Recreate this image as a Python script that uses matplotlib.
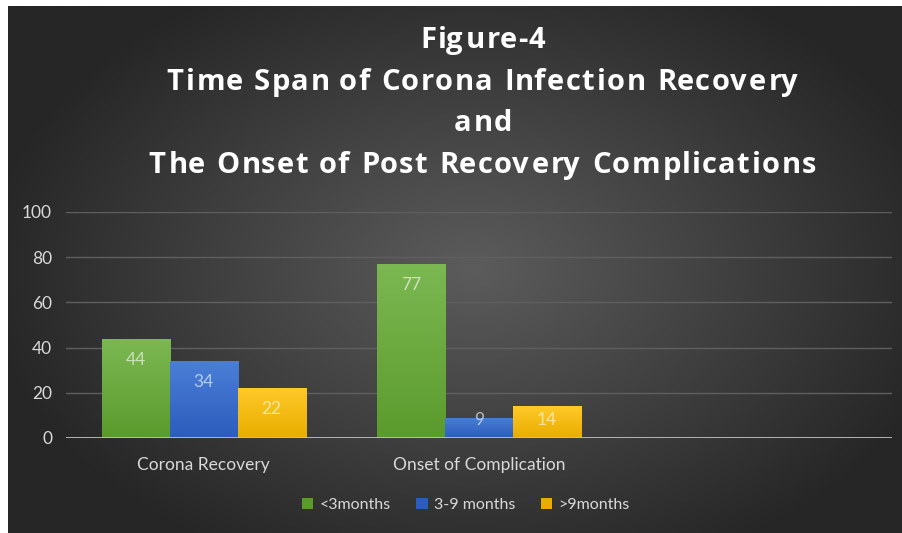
import matplotlib
matplotlib.use("Agg")
import matplotlib.pyplot as plt
import numpy as np
from matplotlib.colors import to_rgb
from matplotlib.patches import Patch
from matplotlib.font_manager import FontProperties, findfont
from matplotlib.ft2font import FT2Font

categories = ["Corona Recovery", "Onset of Complication", ""]
series_names = ["<3months", "3-9 months", ">9months"]
lt3 = [44, 77, None]
m3_9 = [34, 9, None]
gt9 = [22, 14, None]
yticks = [0, 20, 40, 60, 80, 100]
title_lines = ["Figure-4", "Time Span of Corona Infection Recovery", "and",
               "The Onset of Post Recovery Complications"]

# (top colour, bottom colour) for the Excel-ish gradient fill
FILLS = [("#7cb852", "#5b9b2d"), ("#4b7fd6", "#2c5cbd"), ("#ffc928", "#e8ad00")]
FONT = ["Lato", "DejaVu Sans"]
TXT = "#d9d9d9"

W, H = 903, 533
DPI = 100
fig = plt.figure(figsize=(W / DPI, H / DPI), dpi=DPI, facecolor="white")

# radial gradient background
bg = fig.add_axes([8 / W, 0, 1 - 8 / W, 1 - 6 / H], zorder=-10)
yy, xx = np.mgrid[0:1:300j, 0:1:500j]
r = np.sqrt(((xx - 0.52) / 0.55) ** 2 + ((yy - 0.5) / 0.62) ** 2)
shade = (92 - 54 * np.clip(r, 0, 1)) / 255
bg.imshow(np.dstack([shade] * 3), aspect="auto", extent=(0, 1, 0, 1))
bg.set_axis_off()

ax = fig.add_axes([66 / W, 1 - 438 / H, 826 / W, 226 / H])
ax.set_facecolor("none")
x = np.arange(len(categories))
width = 0.247


def gradient_fill(ax, bars, top, bottom):
    t, b = np.array(to_rgb(top)), np.array(to_rgb(bottom))
    grad = np.linspace(0, 1, 64)[:, None, None]
    img = t * (1 - grad) + b * grad
    for bar in bars:
        x0, y0 = bar.get_x(), bar.get_y()
        w, h = bar.get_width(), bar.get_height()
        if h <= 0:
            continue
        im = ax.imshow(img, aspect="auto", extent=(x0, x0 + w, y0, y0 + h),
                       zorder=3, interpolation="bilinear")
        im.set_clip_path(bar)


for i, (name, vals) in enumerate(zip(series_names, [lt3, m3_9, gt9])):
    pos = [xi + (i - 1) * width for xi, v in zip(x, vals) if v is not None]
    hs = [v for v in vals if v is not None]
    bars = ax.bar(pos, hs, width, color=FILLS[i][1], linewidth=0, zorder=2, label=name)
    gradient_fill(ax, bars, *FILLS[i])
    for p, v in zip(pos, hs):
        # inside end, but pushed up for short bars like Excel does
        ax.text(p, max(v - 9.3, 8.1), str(v), ha="center", va="center", color="white",
                alpha=0.62, fontsize=12.5, family=FONT, zorder=5)

ax.set_xlim(-0.5, 2.5)
ax.set_ylim(0, 100)
ax.set_yticks(yticks)
ax.set_xticks(x)
ax.set_xticklabels(categories)
ax.grid(axis="y", color="#5f5f5f", lw=1, zorder=0)
ax.axhline(0, color="#bfbfbf", lw=2, zorder=4)
for s in ax.spines.values():
    s.set_visible(False)
ax.tick_params(length=0, colors=TXT, labelsize=12.5)
ax.tick_params(axis="y", pad=10)
ax.tick_params(axis="x", pad=14)
for lab in ax.get_xticklabels() + ax.get_yticklabels():
    lab.set_family(FONT)

# title: letter-spaced bold text, drawn glyph by glyph (matplotlib has no tracking)
TITLE_PT = 21
title_font = FT2Font(findfont(FontProperties(family="Open Sans", weight="bold")))
title_font.set_size(TITLE_PT, DPI)


def advances(s):
    out = []
    for ch in s:
        g = title_font.load_char(ord(ch))
        out.append((g.linearHoriAdvance / 65536, g.horiBearingX / 64))
    return out


longest = title_lines[-1]
tracking = (667 - sum(a for a, _ in advances(longest))) / (len(longest) - 1)
baselines = [48, 90, 131, 173]
for line, base in zip(title_lines, baselines):
    adv = advances(line)
    total = sum(a for a, _ in adv) + tracking * (len(line) - 1)
    cur = 481.5 - total / 2
    for ch, (a, bear) in zip(line, adv):
        if ch != " ":
            fig.text((cur + bear) / W, 1 - base / H, ch, ha="left", va="baseline",
                     color="white", fontsize=TITLE_PT, fontweight="bold",
                     family=["Open Sans", "DejaVu Sans"])
        cur += a + tracking

handles = [Patch(facecolor=FILLS[i][1], label=n) for i, n in enumerate(series_names)]
leg = fig.legend(handles=handles, loc="center", bbox_to_anchor=(0.516, 0.053), ncol=3,
                 frameon=False, handlelength=0.7, handleheight=0.7, handletextpad=0.4,
                 columnspacing=1.6, prop={"family": FONT, "size": 11.5})
for t in leg.get_texts():
    t.set_color(TXT)

fig.savefig("out.png", dpi=DPI, facecolor="white")
